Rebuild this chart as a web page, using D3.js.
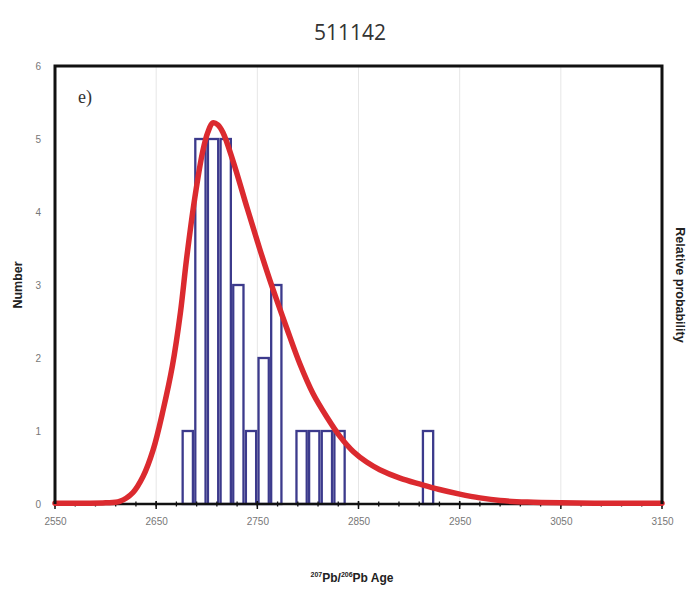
<!DOCTYPE html>
<html>
<head>
<meta charset="utf-8">
<script src="https://cdn.jsdelivr.net/npm/d3@7"></script>
<style>
  html, body { margin: 0; padding: 0; background: #ffffff; }
  svg { display: block; }
</style>
</head>
<body>
<svg id="chart" width="694" height="595"></svg>
<script>
// Sample 511142: histogram of 207Pb/206Pb ages with probability density curve

// Histogram bins (lower edge, Ma) and grain counts
const binStarts = [2675, 2687.5, 2700, 2712.5, 2725, 2737.5, 2750, 2762.5, 2775, 2787.5, 2800, 2812.5, 2825, 2912.5];
const binCounts = [1, 5, 5, 5, 3, 1, 2, 3, 0, 1, 1, 1, 1, 1];
const binWidth = 12.5;

// Relative probability curve (age in Ma, relative probability, peak = 1)
const curveAges = [2550, 2580, 2600, 2614, 2627, 2637, 2647, 2657, 2666, 2674, 2680, 2688, 2696, 2701, 2706, 2711, 2716, 2726, 2740, 2753, 2765, 2779, 2792, 2805, 2819, 2832, 2845, 2858, 2871, 2891, 2911, 2930, 2950, 2970, 2990, 3017, 3050, 3100, 3150];
const curveProb = [0.002, 0.002, 0.003, 0.007, 0.03, 0.072, 0.142, 0.248, 0.362, 0.503, 0.642, 0.8, 0.925, 0.975, 1.0, 0.995, 0.975, 0.9, 0.776, 0.664, 0.567, 0.462, 0.368, 0.29, 0.227, 0.176, 0.137, 0.11, 0.09, 0.068, 0.052, 0.038, 0.026, 0.016, 0.009, 0.005, 0.003, 0.002, 0.002];

// Axis ticks
const xTicks = [2550, 2650, 2750, 2850, 2950, 3050, 3150];
const xMinorTicks = d3.range(2550, 3151, 20);
const yTicks = [0, 1, 2, 3, 4, 5, 6];

const titleText = "511142";
const panelLabel = "e)";

const svg = d3.select("#chart");
const margin = { left: 55, right: 32, top: 66, bottom: 91 };
const W = 694, H = 595;
const x0 = margin.left, x1 = W - margin.right;
const y0 = H - margin.bottom, y1 = margin.top;

const x = d3.scaleLinear().domain([2550, 3150]).range([x0, x1]);
const y = d3.scaleLinear().domain([0, 6]).range([y0, y1]);
const yProb = d3.scaleLinear().domain([0, 6 / 5.22]).range([y0, y1]);

// Title
svg.append("text")
  .attr("x", 350).attr("y", 40)
  .attr("text-anchor", "middle")
  .attr("font-family", "'Open Sans', 'DejaVu Sans', sans-serif")
  .attr("font-size", 21)
  .attr("fill", "#333")
  .text(titleText);

// Vertical gridlines at major ticks
svg.append("g")
  .selectAll("line")
  .data(xTicks.slice(1, -1))
  .join("line")
  .attr("x1", d => x(d)).attr("x2", d => x(d))
  .attr("y1", y1).attr("y2", y0)
  .attr("stroke", "#e6e6e6")
  .attr("stroke-width", 1);

// Histogram bars, drawn as outlined rectangles
svg.append("g")
  .selectAll("rect")
  .data(binStarts.map((s, i) => ({ s, c: binCounts[i] })).filter(d => d.c > 0))
  .join("rect")
  .attr("x", d => x(d.s) + 1.2)
  .attr("width", d => x(d.s + binWidth) - x(d.s) - 2.4)
  .attr("y", d => y(d.c))
  .attr("height", d => y0 - y(d.c))
  .attr("fill", "none")
  .attr("stroke", "#3c3a8c")
  .attr("stroke-width", 2.3);

// X axis baseline with major and minor ticks
svg.append("line")
  .attr("x1", x0).attr("x2", x1)
  .attr("y1", y0).attr("y2", y0)
  .attr("stroke", "#111").attr("stroke-width", 2.5);

svg.append("g")
  .selectAll("line")
  .data(xMinorTicks)
  .join("line")
  .attr("x1", d => x(d)).attr("x2", d => x(d))
  .attr("y1", y0 - 2.5).attr("y2", y0 + 2.5)
  .attr("stroke", "#111").attr("stroke-width", 1.3);

svg.append("g")
  .selectAll("line")
  .data(xTicks)
  .join("line")
  .attr("x1", d => x(d)).attr("x2", d => x(d))
  .attr("y1", y0 - 3).attr("y2", y0 + 5)
  .attr("stroke", "#111").attr("stroke-width", 1.5);

// Probability curve
const line = d3.line()
  .x((d, i) => x(curveAges[i]))
  .y((d, i) => yProb(curveProb[i]))
  .curve(d3.curveCatmullRom.alpha(0.5));

svg.append("path")
  .datum(curveAges)
  .attr("d", line)
  .attr("fill", "none")
  .attr("stroke", "#db2a2f")
  .attr("stroke-width", 5.5)
  .attr("stroke-linejoin", "round")
  .attr("stroke-linecap", "round");

// Plot frame (left, top, right)
svg.append("path")
  .attr("d", `M${x0},${y0}V${y1}H${x1}V${y0}`)
  .attr("fill", "none")
  .attr("stroke", "#111")
  .attr("stroke-width", 3);

// X tick labels
const xAxis = d3.axisBottom(x).tickValues(xTicks).tickFormat(d3.format("d")).tickSize(0).tickPadding(14);
const gx = svg.append("g").attr("transform", `translate(0,${y0})`).call(xAxis);
gx.select(".domain").remove();
gx.selectAll("text")
  .attr("font-family", "'Liberation Sans', Arial, sans-serif")
  .attr("font-size", 10)
  .attr("fill", "#777");

// Y tick labels
const yAxis = d3.axisLeft(y).tickValues(yTicks).tickFormat(d3.format("d")).tickSize(0).tickPadding(14);
const gy = svg.append("g").attr("transform", `translate(${x0},0)`).call(yAxis);
gy.select(".domain").remove();
gy.selectAll("text")
  .attr("font-family", "'Liberation Sans', Arial, sans-serif")
  .attr("font-size", 10)
  .attr("fill", "#777");

// Panel label
svg.append("text")
  .attr("x", 78).attr("y", 103)
  .attr("font-family", "'Liberation Serif', 'Times New Roman', serif")
  .attr("font-size", 18)
  .attr("fill", "#333")
  .text(panelLabel);

// Axis titles
svg.append("text")
  .attr("transform", `translate(22,${(y0 + y1) / 2}) rotate(-90)`)
  .attr("text-anchor", "middle")
  .attr("font-family", "'Liberation Sans', Arial, sans-serif")
  .attr("font-size", 12.5)
  .attr("font-weight", "bold")
  .attr("fill", "#222")
  .text("Number");

svg.append("text")
  .attr("transform", `translate(676,${(y0 + y1) / 2}) rotate(90)`)
  .attr("text-anchor", "middle")
  .attr("font-family", "'Liberation Sans', Arial, sans-serif")
  .attr("font-size", 12.5)
  .attr("font-weight", "bold")
  .attr("fill", "#222")
  .text("Relative probability");

const xl = svg.append("text")
  .attr("x", 352).attr("y", 582)
  .attr("text-anchor", "middle")
  .attr("font-family", "'Liberation Sans', Arial, sans-serif")
  .attr("font-weight", "bold")
  .attr("fill", "#222")
  .attr("font-size", 12);
xl.append("tspan").attr("font-size", 7).attr("dy", -5).text("207");
xl.append("tspan").attr("dy", 5).text("Pb/");
xl.append("tspan").attr("font-size", 7).attr("dy", -5).text("206");
xl.append("tspan").attr("dy", 5).text("Pb Age");
</script>
</body>
</html>
